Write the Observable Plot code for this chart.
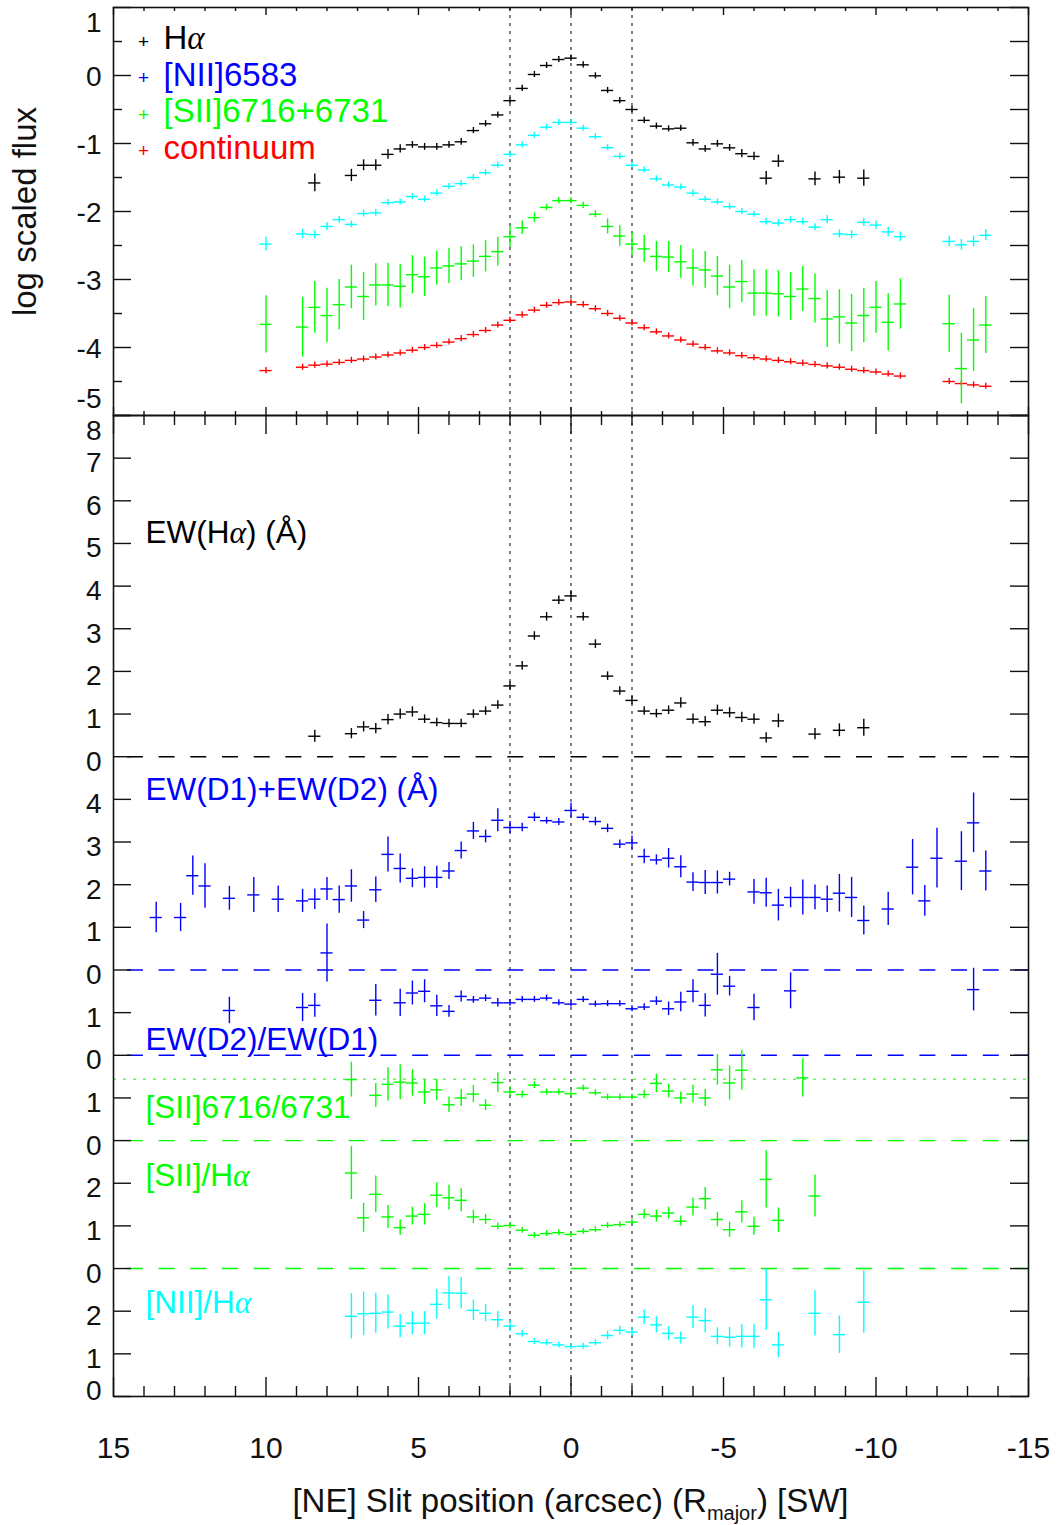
<!DOCTYPE html>
<html><head><meta charset="utf-8">
<script src="https://cdn.jsdelivr.net/npm/d3@7"></script>
<script src="https://cdn.jsdelivr.net/npm/@observablehq/plot@0.6"></script>
<style>
body{margin:0;background:#fff;}
#wrap{position:relative;width:1060px;height:1525px;font-family:"Liberation Sans",Arial,sans-serif;overflow:hidden;}
#top,#bottom{position:absolute;left:0;}
#top{top:0}
#bottom{top:414px}
#xtitle{position:absolute;top:1484px;left:113px;width:915px;text-align:center;font-size:33px;line-height:1;color:#111;white-space:nowrap;}
#xtitle span{font-size:20px;position:relative;top:8px;}
</style></head>
<body><div id="wrap"><div id="bottom"></div><div id="top"></div>
<div id="xtitle">[NE] Slit position (arcsec) (R<span>major</span>) [SW]</div></div>
<script>
// ---------------- data: [slit position (arcsec), value, error] ----------------
const halfBin = 0.2; // half-width of each slit bin (arcsec)

// top panel: log scaled flux
const haFlux = [[8.4,-1.58,0.13],[7.2,-1.47,0.09],[6.8,-1.32,0.08],[6.4,-1.32,0.08],[6.0,-1.16,0.07],[5.6,-1.08,0.06],[5.2,-1.02,0.05],[4.8,-1.05,0.05],[4.4,-1.05,0.05],[4.0,-1.02,0.05],[3.6,-0.975,0.05],[3.2,-0.81,0.04],[2.8,-0.71,0.04],[2.4,-0.58,0.03],[2.0,-0.37,0.03],[1.6,-0.19,0.02],[1.2,0.015,0.02],[0.8,0.147,0.02],[0.4,0.235,0.02],[0.0,0.255,0.02],[-0.4,0.157,0.02],[-0.8,-0.005,0.02],[-1.2,-0.22,0.02],[-1.6,-0.37,0.02],[-2.0,-0.5,0.03],[-2.4,-0.66,0.03],[-2.8,-0.745,0.04],[-3.2,-0.785,0.04],[-3.6,-0.775,0.04],[-4.0,-0.99,0.05],[-4.4,-1.08,0.05],[-4.8,-1.005,0.05],[-5.2,-1.064,0.05],[-5.6,-1.15,0.06],[-6.0,-1.19,0.06],[-6.4,-1.51,0.1],[-6.8,-1.26,0.09],[-8.0,-1.52,0.1],[-8.8,-1.495,0.1],[-9.6,-1.51,0.12]];
const niiFlux = [[10.0,-2.48,0.1],[8.8,-2.33,0.07],[8.4,-2.34,0.06],[8.0,-2.22,0.06],[7.6,-2.12,0.05],[7.2,-2.19,0.05],[6.8,-2.03,0.05],[6.4,-2.02,0.05],[6.0,-1.87,0.04],[5.6,-1.86,0.04],[5.2,-1.78,0.04],[4.8,-1.82,0.04],[4.4,-1.73,0.04],[4.0,-1.63,0.04],[3.6,-1.59,0.04],[3.2,-1.50,0.03],[2.8,-1.43,0.03],[2.4,-1.32,0.03],[2.0,-1.16,0.03],[1.6,-1.02,0.02],[1.2,-0.88,0.02],[0.8,-0.76,0.02],[0.4,-0.69,0.02],[0.0,-0.69,0.02],[-0.4,-0.775,0.02],[-0.8,-0.90,0.02],[-1.2,-1.06,0.02],[-1.6,-1.19,0.02],[-2.0,-1.32,0.03],[-2.4,-1.39,0.03],[-2.8,-1.52,0.03],[-3.2,-1.61,0.03],[-3.6,-1.64,0.03],[-4.0,-1.73,0.04],[-4.4,-1.82,0.04],[-4.8,-1.86,0.04],[-5.2,-1.93,0.04],[-5.6,-2.0,0.04],[-6.0,-2.04,0.04],[-6.4,-2.15,0.05],[-6.8,-2.17,0.05],[-7.2,-2.12,0.05],[-7.6,-2.15,0.05],[-8.0,-2.23,0.05],[-8.4,-2.12,0.06],[-8.8,-2.33,0.06],[-9.2,-2.34,0.06],[-9.6,-2.16,0.06],[-10.0,-2.20,0.06],[-10.4,-2.30,0.07],[-10.8,-2.37,0.07],[-12.4,-2.44,0.08],[-12.8,-2.49,0.08],[-13.2,-2.44,0.08],[-13.6,-2.35,0.08]];
const siiFlux = [[10.0,-3.66,0.42],[8.8,-3.70,0.44],[8.4,-3.41,0.38],[8.0,-3.53,0.4],[7.6,-3.37,0.37],[7.2,-3.11,0.32],[6.8,-3.25,0.35],[6.4,-3.08,0.31],[6.0,-3.08,0.32],[5.6,-3.10,0.32],[5.2,-2.93,0.28],[4.8,-2.96,0.29],[4.4,-2.83,0.25],[4.0,-2.80,0.26],[3.6,-2.77,0.25],[3.2,-2.73,0.24],[2.8,-2.66,0.23],[2.4,-2.59,0.21],[2.0,-2.37,0.16],[1.6,-2.24,0.1],[1.2,-2.09,0.07],[0.8,-1.94,0.03],[0.4,-1.84,0.02],[0.0,-1.84,0.02],[-0.4,-1.91,0.02],[-0.8,-2.04,0.05],[-1.2,-2.22,0.11],[-1.6,-2.36,0.15],[-2.0,-2.48,0.17],[-2.4,-2.55,0.2],[-2.8,-2.66,0.22],[-3.2,-2.67,0.23],[-3.6,-2.74,0.24],[-4.0,-2.83,0.27],[-4.4,-2.86,0.27],[-4.8,-2.95,0.29],[-5.2,-3.11,0.32],[-5.6,-3.03,0.31],[-6.0,-3.20,0.34],[-6.4,-3.20,0.34],[-6.8,-3.21,0.34],[-7.2,-3.25,0.35],[-7.6,-3.14,0.33],[-8.0,-3.28,0.36],[-8.4,-3.58,0.42],[-8.8,-3.55,0.40],[-9.2,-3.64,0.42],[-9.6,-3.53,0.40],[-10.0,-3.41,0.38],[-10.4,-3.63,0.42],[-10.8,-3.36,0.37],[-12.4,-3.65,0.42],[-12.8,-4.31,0.52],[-13.2,-3.89,0.46],[-13.6,-3.67,0.42]];
const contFlux = [[10.0,-4.34,0.01],[8.8,-4.29,0.01],[8.4,-4.26,0.01],[8.0,-4.245,0.01],[7.6,-4.22,0.01],[7.2,-4.19,0.01],[6.8,-4.17,0.01],[6.4,-4.14,0.01],[6.0,-4.11,0.01],[5.6,-4.08,0.01],[5.2,-4.04,0.01],[4.8,-4.00,0.01],[4.4,-3.97,0.01],[4.0,-3.92,0.01],[3.6,-3.87,0.01],[3.2,-3.81,0.01],[2.8,-3.75,0.01],[2.4,-3.67,0.01],[2.0,-3.60,0.01],[1.6,-3.52,0.01],[1.2,-3.45,0.01],[0.8,-3.38,0.01],[0.4,-3.34,0.01],[0.0,-3.33,0.01],[-0.4,-3.37,0.01],[-0.8,-3.43,0.01],[-1.2,-3.50,0.01],[-1.6,-3.57,0.01],[-2.0,-3.64,0.01],[-2.4,-3.71,0.01],[-2.8,-3.77,0.01],[-3.2,-3.83,0.01],[-3.6,-3.89,0.01],[-4.0,-3.95,0.01],[-4.4,-4.00,0.01],[-4.8,-4.05,0.01],[-5.2,-4.08,0.01],[-5.6,-4.12,0.01],[-6.0,-4.15,0.01],[-6.4,-4.17,0.01],[-6.8,-4.19,0.01],[-7.2,-4.21,0.01],[-7.6,-4.23,0.01],[-8.0,-4.25,0.01],[-8.4,-4.27,0.01],[-8.8,-4.29,0.01],[-9.2,-4.32,0.01],[-9.6,-4.34,0.01],[-10.0,-4.36,0.01],[-10.4,-4.39,0.01],[-10.8,-4.42,0.01],[-12.4,-4.50,0.01],[-12.8,-4.53,0.01],[-13.2,-4.55,0.01],[-13.6,-4.57,0.01]];

// bottom panel: stacked quantities
const ewHa = [[8.4,0.48,0.14],[7.2,0.54,0.12],[6.8,0.70,0.12],[6.4,0.66,0.12],[6.0,0.87,0.12],[5.6,1.0,0.12],[5.2,1.05,0.12],[4.8,0.88,0.1],[4.4,0.80,0.1],[4.0,0.78,0.1],[3.6,0.78,0.1],[3.2,1.0,0.1],[2.8,1.07,0.1],[2.4,1.21,0.1],[2.0,1.66,0.1],[1.6,2.13,0.1],[1.2,2.83,0.1],[0.8,3.28,0.1],[0.4,3.67,0.1],[0.0,3.77,0.12],[-0.4,3.28,0.1],[-0.8,2.64,0.1],[-1.2,1.89,0.1],[-1.6,1.54,0.1],[-2.0,1.32,0.1],[-2.4,1.07,0.1],[-2.8,1.01,0.1],[-3.2,1.09,0.1],[-3.6,1.26,0.12],[-4.0,0.88,0.12],[-4.4,0.82,0.12],[-4.8,1.09,0.12],[-5.2,1.03,0.12],[-5.6,0.92,0.12],[-6.0,0.88,0.12],[-6.4,0.44,0.12],[-6.8,0.84,0.16],[-8.0,0.53,0.13],[-8.8,0.62,0.15],[-9.6,0.68,0.2]];
const ewNaD = [[13.6,1.23,0.36],[12.8,1.23,0.33],[12.4,2.21,0.46],[12.0,1.97,0.52],[11.2,1.68,0.28],[10.4,1.76,0.41],[9.6,1.66,0.31],[8.8,1.62,0.27],[8.4,1.66,0.24],[8.0,1.90,0.27],[7.6,1.65,0.32],[7.2,1.97,0.38],[6.8,1.17,0.2],[6.4,1.88,0.3],[6.0,2.71,0.41],[5.6,2.38,0.34],[5.2,2.15,0.22],[4.8,2.17,0.25],[4.4,2.17,0.26],[4.0,2.32,0.2],[3.6,2.80,0.2],[3.2,3.26,0.2],[2.8,3.13,0.15],[2.4,3.51,0.27],[2.0,3.34,0.14],[1.6,3.34,0.1],[1.2,3.58,0.1],[0.8,3.50,0.08],[0.4,3.47,0.08],[0.0,3.74,0.17],[-0.4,3.58,0.08],[-0.8,3.48,0.1],[-1.2,3.32,0.1],[-1.6,2.95,0.1],[-2.0,2.98,0.16],[-2.4,2.66,0.17],[-2.8,2.58,0.12],[-3.2,2.62,0.23],[-3.6,2.42,0.26],[-4.0,2.06,0.22],[-4.4,2.05,0.28],[-4.8,2.05,0.27],[-5.2,2.13,0.16],[-6.0,1.83,0.29],[-6.4,1.81,0.34],[-6.8,1.52,0.37],[-7.2,1.70,0.24],[-7.6,1.70,0.41],[-8.0,1.70,0.29],[-8.4,1.66,0.31],[-8.8,1.80,0.44],[-9.2,1.70,0.47],[-9.6,1.16,0.34],[-10.4,1.43,0.39],[-11.2,2.41,0.65],[-11.6,1.62,0.36],[-12.0,2.62,0.7],[-12.8,2.55,0.69],[-13.2,3.45,0.7],[-13.6,2.32,0.47]];
const ratioD2D1 = [[11.2,1.05,0.31],[8.8,1.12,0.33],[8.4,1.17,0.28],[8.0,2.40,0.68],[6.4,1.29,0.37],[5.6,1.23,0.32],[5.2,1.46,0.28],[4.8,1.50,0.27],[4.4,1.16,0.25],[4.0,1.03,0.14],[3.6,1.38,0.13],[3.2,1.30,0.08],[2.8,1.34,0.08],[2.4,1.23,0.1],[2.0,1.23,0.08],[1.6,1.31,0.05],[1.2,1.31,0.05],[0.8,1.34,0.05],[0.4,1.23,0.05],[0.0,1.20,0.05],[-0.4,1.31,0.05],[-0.8,1.20,0.05],[-1.2,1.21,0.05],[-1.6,1.21,0.05],[-2.0,1.09,0.05],[-2.4,1.13,0.08],[-2.8,1.27,0.1],[-3.2,1.09,0.16],[-3.6,1.25,0.23],[-4.0,1.50,0.27],[-4.4,1.17,0.27],[-4.8,1.90,0.49],[-5.2,1.62,0.23],[-6.0,1.12,0.31],[-7.2,1.51,0.42],[-13.2,1.54,0.5]];
const ratioSII = [[7.2,1.43,0.41],[6.4,1.06,0.28],[6.0,1.32,0.39],[5.6,1.37,0.41],[5.2,1.35,0.31],[4.8,1.14,0.29],[4.4,1.19,0.25],[4.0,0.84,0.18],[3.6,1.00,0.2],[3.2,1.09,0.2],[2.8,0.83,0.13],[2.4,1.36,0.23],[2.0,1.14,0.12],[1.6,1.08,0.08],[1.2,1.30,0.08],[0.8,1.14,0.05],[0.4,1.14,0.05],[0.0,1.10,0.05],[-0.4,1.23,0.05],[-0.8,1.12,0.05],[-1.2,1.02,0.05],[-1.6,1.02,0.05],[-2.0,1.02,0.05],[-2.4,1.08,0.1],[-2.8,1.34,0.22],[-3.2,1.16,0.16],[-3.6,1.00,0.14],[-4.0,1.09,0.21],[-4.4,1.00,0.2],[-4.8,1.66,0.36],[-5.2,1.35,0.4],[-5.6,1.65,0.47],[-7.6,1.47,0.45]];
const siiLowDensityLimit = 1.44;
const ratioSIIHa = [[7.2,2.24,0.62],[6.8,1.19,0.34],[6.4,1.74,0.43],[6.0,1.21,0.27],[5.6,0.96,0.18],[5.2,1.23,0.21],[4.8,1.27,0.25],[4.4,1.72,0.29],[4.0,1.66,0.29],[3.6,1.60,0.27],[3.2,1.21,0.16],[2.8,1.15,0.12],[2.4,0.99,0.08],[2.0,1.01,0.07],[1.6,0.90,0.05],[1.2,0.78,0.04],[0.8,0.82,0.04],[0.4,0.84,0.04],[0.0,0.80,0.04],[-0.4,0.87,0.04],[-0.8,0.91,0.04],[-1.2,1.01,0.05],[-1.6,1.03,0.05],[-2.0,1.09,0.06],[-2.4,1.27,0.11],[-2.8,1.23,0.14],[-3.2,1.30,0.14],[-3.6,1.11,0.12],[-4.0,1.44,0.21],[-4.4,1.64,0.26],[-4.8,1.15,0.17],[-5.2,0.91,0.18],[-5.6,1.33,0.26],[-6.0,0.99,0.21],[-6.4,2.09,0.67],[-6.8,1.13,0.29],[-8.0,1.70,0.49]];
const ratioNIIHa = [[7.2,1.88,0.53],[6.8,1.94,0.51],[6.4,1.95,0.47],[6.0,1.98,0.4],[5.6,1.65,0.27],[5.2,1.72,0.27],[4.8,1.72,0.27],[4.4,2.16,0.35],[4.0,2.43,0.39],[3.6,2.42,0.37],[3.2,2.02,0.24],[2.8,1.95,0.2],[2.4,1.80,0.19],[2.0,1.65,0.13],[1.6,1.47,0.08],[1.2,1.29,0.05],[0.8,1.26,0.04],[0.4,1.21,0.04],[0.0,1.17,0.04],[-0.4,1.18,0.04],[-0.8,1.26,0.05],[-1.2,1.43,0.1],[-1.6,1.55,0.1],[-2.0,1.51,0.1],[-2.4,1.86,0.17],[-2.8,1.68,0.19],[-3.2,1.48,0.16],[-3.6,1.37,0.14],[-4.0,1.86,0.27],[-4.4,1.78,0.29],[-4.8,1.41,0.2],[-5.2,1.39,0.23],[-5.6,1.41,0.27],[-6.0,1.41,0.28],[-6.4,2.27,0.72],[-6.8,1.21,0.3],[-8.0,1.95,0.53],[-8.8,1.45,0.44],[-9.6,2.21,0.73]];

// vertical stacking offsets of the bottom-panel sections
const offEwHa = 0, offEwNaD = -5, offD2D1 = -7, offSII = -9, offSIIHa = -12, offNIIHa = -15;
const zeroLines = [offEwHa, offEwNaD, offD2D1, offSII, offSIIHa];

// guide lines (arcsec)
const dividers = [2, 0, -2];

// ticks and tick labels
const xMajor = [15, 10, 5, 0, -5, -10, -15];
const xMinor = [14,13,12,11,9,8,7,6,4,3,2,1,-1,-2,-3,-4,-6,-7,-8,-9,-11,-12,-13,-14];
const topYMajor = [1, 0, -1, -2, -3, -4, -5];
const topYMinor = [0.5, -0.5, -1.5, -2.5, -3.5, -4.5];
const botYTicks = [8,7,6,5,4,3,2,1,0,-1,-2,-3,-4,-5,-6,-7,-8,-9,-10,-11,-12,-13,-14,-15];
const botYLabels = ["8","7","6","5","4","3","2","1","0","4","3","2","1","0","1","0","1","0","2","1","0","2","1","0"];

// legend and annotations
const legendLabels = ["Hα", "[NII]6583", "[SII]6716+6731", "continuum"];
const annLabels = ["EW(Hα) (Å)", "EW(D1)+EW(D2) (Å)", "EW(D2)/EW(D1)", "[SII]6716/6731", "[SII]/Hα", "[NII]/Hα"];

// ---------------- styles ----------------
const BLACK = "#000", BLUE = "#0000ff", CYAN = "#00ffff", GREEN = "#00ff00", RED = "#ff0000";
const legendColors = [BLACK, BLUE, GREEN, RED];
const annColors = [BLACK, BLUE, BLUE, GREEN, GREEN, CYAN];
const annDy = [117, 374, 624, 692, 760, 887];
const FONT = "Liberation Sans, Arial, Helvetica, sans-serif";
const TICKFONT = 28;
const W = 1060, ML = 113, MR = 32, PW = W - ML - MR;
const xDomain = [15, -15];
const AX = {stroke: "#111", strokeWidth: 1.4};

function bars(data, color, off, minErr) {
  return [
    Plot.ruleY(data, {y: d => d[1] + off, x1: d => d[0] + halfBin, x2: d => d[0] - halfBin, stroke: color, strokeWidth: 1.4}),
    Plot.ruleX(data, {x: d => d[0], y1: d => d[1] + off - Math.max(d[2], minErr), y2: d => d[1] + off + Math.max(d[2], minErr), stroke: color, strokeWidth: 1.4})
  ];
}

function yLabelMarks(vals, texts, dyNormal, dyFirst, dyLast) {
  const idx = vals.map((v, i) => i);
  const n = vals.length - 1;
  const common = {y: i => vals[i], text: i => texts[i], frameAnchor: "left", textAnchor: "end", dx: -12, fontSize: TICKFONT, fill: "#111", lineAnchor: "middle"};
  return [
    Plot.text(idx.filter(i => i > 0 && i < n), {...common, dy: dyNormal}),
    Plot.text([0], {...common, dy: dyFirst}),
    Plot.text([n], {...common, dy: dyLast})
  ];
}

function italicAlpha(svg) {
  svg.querySelectorAll("text, tspan").forEach(el => {
    [...el.childNodes].forEach(n => {
      if (n.nodeType === 3 && n.nodeValue.includes("α")) {
        const parts = n.nodeValue.split("α");
        const frag = document.createDocumentFragment();
        parts.forEach((p, i) => {
          if (p) frag.appendChild(document.createTextNode(p));
          if (i < parts.length - 1) {
            const ts = document.createElementNS("http://www.w3.org/2000/svg", "tspan");
            ts.setAttribute("font-style", "italic");
            ts.setAttribute("font-family", "Liberation Serif, DejaVu Serif, serif");
            ts.textContent = "α";
            frag.appendChild(ts);
          }
        });
        el.replaceChild(frag, n);
      }
    });
  });
}

// ---------------- top panel ----------------
const topH = 428, topMT = 7, topMB = 13, topPH = topH - topMT - topMB;
const topPlot = Plot.plot({
  width: W, height: topH, marginLeft: ML, marginRight: MR, marginTop: topMT, marginBottom: topMB,
  style: {background: "transparent", fontFamily: FONT},
  x: {domain: xDomain, axis: null},
  y: {domain: [-5, 1], axis: null},
  marks: [
    Plot.ruleX(dividers, {stroke: "#000", strokeWidth: 1, strokeDasharray: "3,5"}),
    ...bars(contFlux, RED, 0, 0.045),
    ...bars(siiFlux, GREEN, 0, 0.045),
    ...bars(niiFlux, CYAN, 0, 0.045),
    ...bars(haFlux, BLACK, 0, 0.045),
    Plot.ruleX(xMajor, {...AX, insetTop: topPH - 8}),
    Plot.ruleX(xMajor, {...AX, insetBottom: topPH - 8}),
    Plot.ruleX(xMinor, {...AX, insetTop: topPH - 4}),
    Plot.ruleX(xMinor, {...AX, insetBottom: topPH - 4}),
    Plot.ruleY(topYMajor, {...AX, insetRight: PW - 18}),
    Plot.ruleY(topYMajor, {...AX, insetLeft: PW - 18}),
    Plot.ruleY(topYMinor, {...AX, insetRight: PW - 9}),
    Plot.ruleY(topYMinor, {...AX, insetLeft: PW - 18}),
    Plot.frame({stroke: "#111", strokeWidth: 1.6}),
    ...yLabelMarks(topYMajor, topYMajor.map(String), 2, 16, -16),
    Plot.text(["log scaled flux"], {text: d => d, frameAnchor: "left", dx: -88, rotate: -90, fontSize: 33, fill: "#111", textAnchor: "middle", lineAnchor: "middle"}),
    ...legendLabels.map((t, i) => Plot.text(["+"], {text: d => d, frameAnchor: "top-left", dx: 30, dy: 34 + i * 36.6, fontSize: 19, fill: legendColors[i], textAnchor: "middle", lineAnchor: "middle"})),
    ...legendLabels.map((t, i) => Plot.text([t], {text: d => d, frameAnchor: "top-left", dx: 50, dy: 31 + i * 36.6, fontSize: 33, fill: legendColors[i], textAnchor: "start", lineAnchor: "middle"}))
  ]
});
italicAlpha(topPlot);
document.getElementById("top").appendChild(topPlot);

// ---------------- bottom panel ----------------
const botH = 1111, botMT = 1, botMB = 129, botPH = botH - botMT - botMB;
const dash = {strokeWidth: 1.4, strokeDasharray: "16,15.7", strokeDashoffset: 17.8};
const zeroColors = [BLACK, BLUE, BLUE, GREEN, GREEN];
const botPlot = Plot.plot({
  width: W, height: botH, marginLeft: ML, marginRight: MR, marginTop: botMT, marginBottom: botMB,
  style: {background: "transparent", fontFamily: FONT},
  x: {domain: xDomain, axis: null},
  y: {domain: [-15, 8], axis: null},
  marks: [
    Plot.ruleX(dividers, {stroke: "#000", strokeWidth: 1, strokeDasharray: "3,5"}),
    ...zeroLines.map((z, i) => Plot.ruleY([z], {...dash, stroke: zeroColors[i]})),
    Plot.ruleY([offSII + siiLowDensityLimit], {stroke: GREEN, strokeWidth: 1, strokeDasharray: "3,7"}),
    ...bars(ewHa, BLACK, offEwHa, 0.07),
    ...bars(ewNaD, BLUE, offEwNaD, 0.07),
    ...bars(ratioD2D1, BLUE, offD2D1, 0.07),
    ...bars(ratioSII, GREEN, offSII, 0.07),
    ...bars(ratioSIIHa, GREEN, offSIIHa, 0.07),
    ...bars(ratioNIIHa, CYAN, offNIIHa, 0.07),
    Plot.ruleX(xMajor, {...AX, insetTop: botPH - 19}),
    Plot.ruleX(xMajor, {...AX, insetBottom: botPH - 19}),
    Plot.ruleX(xMinor, {...AX, insetTop: botPH - 10}),
    Plot.ruleX(xMinor, {...AX, insetBottom: botPH - 10}),
    Plot.ruleY(botYTicks, {...AX, insetRight: PW - 18}),
    Plot.ruleY(botYTicks, {...AX, insetLeft: PW - 18}),
    Plot.frame({stroke: "#111", strokeWidth: 1.6}),
    ...yLabelMarks(botYTicks, botYLabels, 5, 16, -5),
    Plot.text(xMajor, {x: d => d, text: d => String(d), frameAnchor: "bottom", dy: 52, fontSize: 30, fill: "#111", lineAnchor: "middle"}),
    ...annLabels.map((t, i) => Plot.text([t], {text: d => d, frameAnchor: "top-left", dx: 32, dy: annDy[i], fontSize: 31.5, fill: annColors[i], textAnchor: "start", lineAnchor: "middle"}))
  ]
});
italicAlpha(botPlot);
document.getElementById("bottom").appendChild(botPlot);
</script>
</body></html>
